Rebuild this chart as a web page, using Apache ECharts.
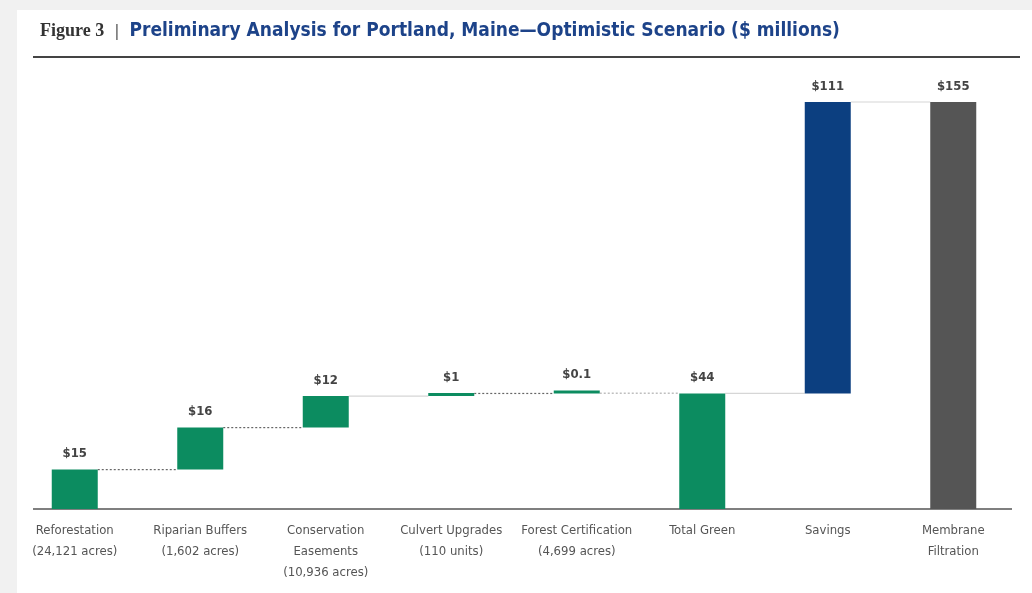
<!DOCTYPE html>
<html>
<head>
<meta charset="utf-8">
<script src="https://cdn.jsdelivr.net/npm/echarts@6/dist/echarts.min.js"></script>
<style>
  html, body { margin: 0; padding: 0; }
  #container { width: 1032px; height: 593px; }
</style>
</head>
<body>
<div id="container"></div>
<script>
// Dados do gráfico
var categories = [
    'Reforestation\n(24,121 acres)',
    'Riparian Buffers\n(1,602 acres)',
    'Conservation\nEasements\n(10,936 acres)',
    'Culvert Upgrades\n(110 units)',
    'Forest Certification\n(4,699 acres)',
    'Total Green',
    'Savings',
    'Membrane\nFiltration'
];
var baseValues = [0, 15, 31, 43, 44, 0, 44, 0];
var stepValues = [15, 16, 12, 1, 0.1, 44, 111, 155];
var valueLabels = ['$15', '$16', '$12', '$1', '$0.1', '$44', '$111', '$155'];
var barColors = ['#0c8c60', '#0c8c60', '#0c8c60', '#0c8c60', '#0c8c60', '#0c8c60', '#0c3f80', '#555555'];
// conectores: [de índice, nível, tipo]
var connectors = [
    [0, 15, 'dot'],
    [1, 31, 'dot'],
    [2, 43, 'light'],
    [3, 44, 'dot'],
    [4, 44.1, 'dotLight'],
    [5, 44, 'light'],
    [6, 155, 'light']
];

var narrow = "'Liberation Sans Narrow', 'Arial Narrow', 'DejaVu Sans Condensed', Roboto, sans-serif";

var dom = document.getElementById('container');
var myChart = echarts.init(dom, null, { renderer: 'canvas' });

var option = {
    backgroundColor: '#f1f1f1',
    animation: false,
    title: {
        left: 35,
        top: 17,
        text: '{fig|Figure 3}{sep|  |  }{main|Preliminary Analysis for Portland, Maine\u2014Optimistic Scenario ($ millions)}',
        textStyle: {
            rich: {
                fig: { fontFamily: "'Liberation Serif', 'DejaVu Serif', serif", fontSize: 18, color: '#333333' },
                sep: { fontFamily: narrow, fontSize: 16, color: '#777777' },
                main: { fontFamily: narrow, fontSize: 19, fontWeight: 'bold', color: '#1d4389' }
            }
        }
    },
    graphic: [
        {
            type: 'rect', z: -100, silent: true,
            shape: { x: 17, y: 10, width: 1015, height: 583 },
            style: { fill: '#ffffff' }
        },
        {
            type: 'line', silent: true,
            shape: { x1: 33, y1: 57, x2: 1020, y2: 57 },
            style: { stroke: '#444444', lineWidth: 2 }
        },
        {
            type: 'line', silent: true,
            shape: { x1: 33, y1: 509, x2: 1012, y2: 509 },
            style: { stroke: '#555555', lineWidth: 1.5 }
        }
    ],
    grid: { left: 12, right: 16, top: 102, bottom: 84 },
    xAxis: {
        type: 'category',
        data: categories,
        axisLine: { show: false },
        axisTick: { show: false },
        axisLabel: {
            interval: 0,
            margin: 11,
            fontFamily: narrow,
            fontSize: 13,
            lineHeight: 21,
            color: '#555555'
        }
    },
    yAxis: {
        type: 'value',
        min: 0,
        max: 155,
        show: false,
        splitLine: { show: false }
    },
    series: [
        {
            type: 'bar',
            stack: 'wf',
            barWidth: 46,
            silent: true,
            itemStyle: { color: 'transparent' },
            data: baseValues
        },
        {
            type: 'bar',
            stack: 'wf',
            barWidth: 46,
            barMinHeight: 3,
            data: stepValues.map(function (v, i) {
                return { value: v, itemStyle: { color: barColors[i] } };
            }),
            label: {
                show: true,
                position: 'top',
                distance: 9,
                fontFamily: narrow,
                fontSize: 13,
                fontWeight: 'bold',
                color: '#444444',
                formatter: function (p) { return valueLabels[p.dataIndex]; }
            }
        },
        {
            type: 'custom',
            silent: true,
            encode: { x: 0, y: 1 },
            data: connectors,
            renderItem: function (params, api) {
                var i = api.value(0);
                var p1 = api.coord([i, api.value(1)]);
                var p2 = api.coord([i + 1, api.value(1)]);
                var half = 23;
                var kind = connectors[params.dataIndex][2];
                var style = { lineWidth: 1.2, stroke: '#666666', lineDash: [2, 2] };
                if (kind === 'light') style = { lineWidth: 1.2, stroke: '#d6d6d6' };
                if (kind === 'dotLight') style = { lineWidth: 1.2, stroke: '#b0b0b0', lineDash: [2, 2] };
                return {
                    type: 'line',
                    shape: { x1: p1[0] + half, y1: p1[1], x2: p2[0] - half, y2: p2[1] },
                    style: style
                };
            }
        }
    ]
};

myChart.setOption(option);

window.addEventListener('resize', function () {
    myChart.resize();
});
</script>
</body>
</html>
